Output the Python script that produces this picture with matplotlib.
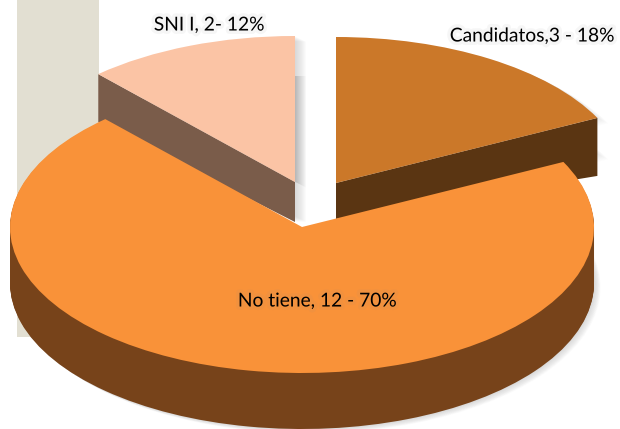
import numpy as np
import matplotlib
import matplotlib.pyplot as plt
import matplotlib.patheffects as pe
from matplotlib.patches import Polygon, Rectangle, Wedge

matplotlib.use("Agg")
plt.rcParams["font.family"] = ["Lato", "DejaVu Sans"]

categories = ["Candidatos", "No tiene", "SNI I"]
counts = [3, 12, 2]
labels = ["Candidatos,3 - 18%", "No tiene, 12 - 70%", "SNI I, 2- 12%"]

top_colors = ["#CB7829", "#F99239", "#FBC4A5"]
side_colors = ["#5A3512", "#77431A", "#7A5C4A"]

# slice centres in pixels, y measured from the top of the image
centers = [(336, 183), (302, 227), (295, 182)]
radius = 292
label_pos = [(532, 36), (317, 301), (209, 25)]


def py(y):
    # y axis runs at two units per pixel, so a round pie comes out squashed by half
    return (429 - y) * 2


fig = plt.figure(figsize=(6.2, 4.29), dpi=100)
ax = fig.add_axes([0, 0, 1, 1])

wedges, _ = ax.pie(counts, startangle=90, counterclock=False, radius=radius, center=(0, 0))
angles = [(w.theta1, w.theta2) for w in wedges]
for w in wedges:
    w.remove()

ax.set_aspect("auto")
ax.set_xlim(0, 620)
ax.set_ylim(0, 858)
ax.axis("off")

ax.add_patch(Rectangle((17, py(337)), 82, py(0) - py(337), color="#E2DFD2", lw=0, zorder=1))


def slice_at(i, x, y, color, zorder, alpha=1.0, r=radius):
    t1, t2 = angles[i]
    ax.add_patch(Wedge((x, py(y)), r, t1, t2, fc=color, ec="none", alpha=alpha, zorder=zorder))


def wall(i, edge_angle, color, zorder, center_depth, tip_depth):
    cx, cy = centers[i]
    a = np.radians(edge_angle)
    tx = cx + radius * np.cos(a)
    ty = py(cy) + radius * np.sin(a)
    pts = [
        (cx, py(cy)),
        (tx, ty),
        (tx, ty - 2 * tip_depth),
        (cx, py(cy + center_depth)),
    ]
    ax.add_patch(Polygon(pts, fc=color, ec="none", zorder=zorder))


# soft shadows behind the back slices and the big slice
for k in range(1, 12):
    slice_at(0, centers[0][0] + k, centers[0][1] + k * 0.5, "#555555", 2, alpha=0.012)
    slice_at(0, centers[0][0] + k, centers[0][1] + 36 + k * 0.5, "#555555", 2, alpha=0.012)
    slice_at(2, centers[2][0] + k, centers[2][1] + k * 0.5, "#555555", 2, alpha=0.02)
    slice_at(2, centers[2][0] + k, centers[2][1] + 40, "#555555", 2, alpha=0.02)
    slice_at(1, centers[1][0] + k * 0.6, centers[1][1] + 56 + k * 0.4, "#555555", 2, alpha=0.02)

# back slices: radial wall with the top face on it
wall(0, angles[0][0], side_colors[0], 3, 36, 58)
slice_at(0, *centers[0], top_colors[0], 4)
wall(2, angles[2][1], side_colors[2], 3, 40, 48)
slice_at(2, *centers[2], top_colors[2], 4)

# big slice: stacked copies for the rim, then the top face
for d in range(1, 57):
    slice_at(1, centers[1][0], centers[1][1] + d, side_colors[1], 5)
slice_at(1, *centers[1], top_colors[1], 6)

halo = [pe.withStroke(linewidth=5, foreground="#888888", alpha=0.07)]
for text, (x, y) in zip(labels, label_pos):
    ax.text(x, py(y), text, fontsize=13.8, color="black", ha="center", va="center", zorder=8,
            path_effects=halo)

fig.savefig("out.png", dpi=100)
